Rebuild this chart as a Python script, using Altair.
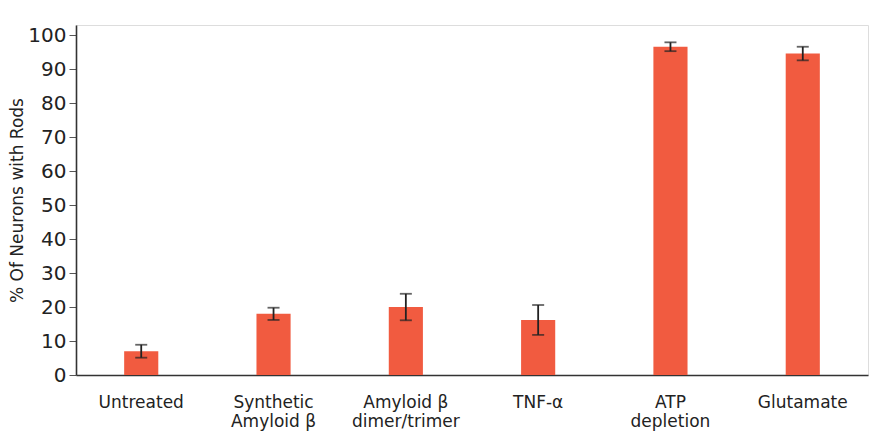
import altair as alt
import pandas as pd

categories = ["Untreated", "Synthetic|Amyloid β", "Amyloid β|dimer/trimer", "TNF-α", "ATP|depletion", "Glutamate"]
values = [7.0, 18.0, 20.0, 16.2, 96.6, 94.6]
errors = [1.9, 1.8, 3.9, 4.4, 1.3, 2.0]
y_ticks = [0, 10, 20, 30, 40, 50, 60, 70, 80, 90, 100]

df = pd.DataFrame({"cat": categories, "val": values, "err": errors})
df["lo"] = df["val"] - df["err"]
df["hi"] = df["val"] + df["err"]

FONT = "DejaVu Sans"
xaxis = alt.Axis(labelExpr="split(datum.label, '|')", labelAngle=0, ticks=False,
                 labelPadding=19, labelFontSize=17, labelFont=FONT, labelColor="#222",
                 domainColor="#333", domainWidth=1.6, labelLineHeight=19)
xscale = alt.Scale(paddingInner=0.742, paddingOuter=0.364)
yaxis = alt.Axis(values=y_ticks, tickCount=11, grid=False, tickSize=7,
                 tickColor="#555", tickWidth=1, labelFontSize=20, labelFont=FONT,
                 labelColor="#222", labelPadding=3, labelOverlap=False,
                 titleFont=FONT, titleFontSize=17,
                 titleFontWeight="normal", titleColor="#222", titlePadding=1,
                 domainColor="#333", domainWidth=1.6)
yscale = alt.Scale(domain=[0, 103], nice=False)
TITLE = "% Of Neurons with Rods"

def X():
    return alt.X("cat:N", sort=categories, title=None, scale=xscale, axis=xaxis)

base = alt.Chart(df)
bars = base.mark_bar(color="#F15B40").encode(
    x=X(), y=alt.Y("val:Q", scale=yscale, title=TITLE, axis=yaxis))
rules = base.mark_rule(color="#222", strokeWidth=1.8).encode(
    x=X(), y=alt.Y("lo:Q", scale=yscale, title=TITLE, axis=yaxis), y2="hi:Q")
caps_lo = base.mark_tick(color="#222", thickness=1.8, size=12, orient="horizontal").encode(
    x=X(), y=alt.Y("lo:Q", scale=yscale, title=TITLE, axis=yaxis))
caps_hi = base.mark_tick(color="#222", thickness=1.8, size=12, orient="horizontal").encode(
    x=X(), y=alt.Y("hi:Q", scale=yscale, title=TITLE, axis=yaxis))

chart = alt.layer(bars, rules, caps_lo, caps_hi).properties(
    width=792, height=350,
    autosize=alt.AutoSizeParams(type="none"),
    padding={"left": 68, "top": 17, "right": 8, "bottom": 60},
).configure_view(stroke=None).configure(background="white")

chart.save("out.html", embed_options={"renderer": "svg", "actions": False})
